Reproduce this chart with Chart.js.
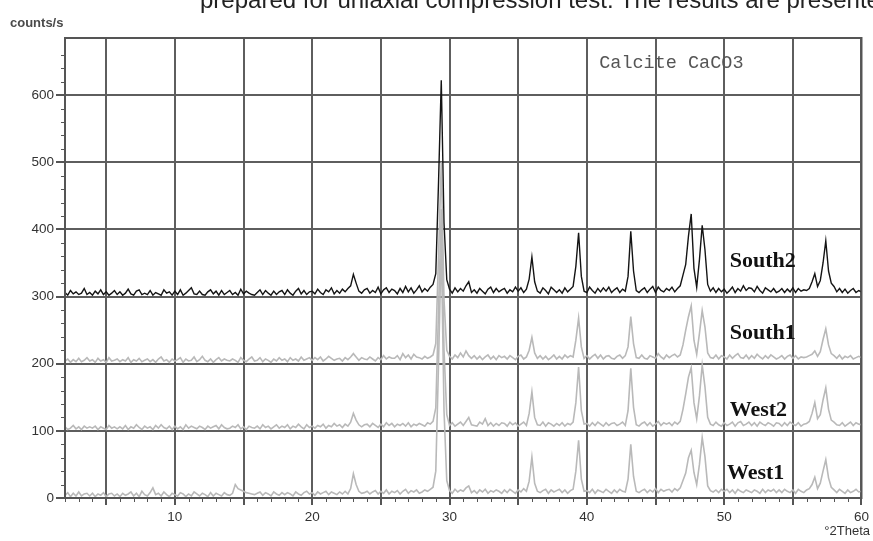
<!DOCTYPE html>
<html>
<head>
<meta charset="utf-8">
<script src="https://cdn.jsdelivr.net/npm/chart.js@4.4.1/dist/chart.umd.min.js"></script>
<style>
  body { margin: 0; background: #fff; }
  #wrap { position: relative; width: 873px; height: 541px; overflow: hidden; }
  #myChart { position: absolute; left: 0; top: 0; }
  .note { position: absolute; white-space: nowrap; font-family: "Liberation Sans", Arial, sans-serif; line-height: 1; }
  #caption { left: 200px; top: -12px; font-size: 24px; color: #222; }
  #yTitle { left: 10px; top: 16px; font-size: 13px; font-weight: bold; color: #4a4a4a; }
  #xTitle { right: 3px; top: 524px; font-size: 13px; color: #333; }
</style>
</head>
<body>
<div id="wrap">
  <canvas id="myChart" width="873" height="541"></canvas>
  <div class="note" id="caption">prepared for uniaxial compression test. The results are presented</div>
  <div class="note" id="yTitle">counts/s</div>
  <div class="note" id="xTitle">°2Theta</div>
</div>
<script>
// 2Theta positions of the scan (degrees)
const twoTheta = [
  2, 2.2, 2.4, 2.6, 2.8, 3, 3.2, 3.4, 3.6, 3.8,
  4, 4.2, 4.4, 4.6, 4.8, 5, 5.2, 5.4, 5.6, 5.8,
  6, 6.2, 6.4, 6.6, 6.8, 7, 7.2, 7.4, 7.6, 7.8,
  8, 8.2, 8.4, 8.6, 8.8, 9, 9.2, 9.4, 9.6, 9.8,
  10, 10.2, 10.4, 10.6, 10.8, 11, 11.2, 11.4, 11.6, 11.8,
  12, 12.2, 12.4, 12.6, 12.8, 13, 13.2, 13.4, 13.6, 13.8,
  14, 14.2, 14.4, 14.6, 14.8, 15, 15.2, 15.4, 15.6, 15.8,
  16, 16.2, 16.4, 16.6, 16.8, 17, 17.2, 17.4, 17.6, 17.8,
  18, 18.2, 18.4, 18.6, 18.8, 19, 19.2, 19.4, 19.6, 19.8,
  20, 20.2, 20.4, 20.6, 20.8, 21, 21.2, 21.4, 21.6, 21.8,
  22, 22.2, 22.4, 22.6, 22.8, 23, 23.2, 23.4, 23.6, 23.8,
  24, 24.2, 24.4, 24.6, 24.8, 25, 25.2, 25.4, 25.6, 25.8,
  26, 26.2, 26.4, 26.6, 26.8, 27, 27.2, 27.4, 27.6, 27.8,
  28, 28.2, 28.4, 28.6, 28.8, 29, 29.2, 29.4, 29.6, 29.8,
  30, 30.2, 30.4, 30.6, 30.8, 31, 31.2, 31.4, 31.6, 31.8,
  32, 32.2, 32.4, 32.6, 32.8, 33, 33.2, 33.4, 33.6, 33.8,
  34, 34.2, 34.4, 34.6, 34.8, 35, 35.2, 35.4, 35.6, 35.8,
  36, 36.2, 36.4, 36.6, 36.8, 37, 37.2, 37.4, 37.6, 37.8,
  38, 38.2, 38.4, 38.6, 38.8, 39, 39.2, 39.4, 39.6, 39.8,
  40, 40.2, 40.4, 40.6, 40.8, 41, 41.2, 41.4, 41.6, 41.8,
  42, 42.2, 42.4, 42.6, 42.8, 43, 43.2, 43.4, 43.6, 43.8,
  44, 44.2, 44.4, 44.6, 44.8, 45, 45.2, 45.4, 45.6, 45.8,
  46, 46.2, 46.4, 46.6, 46.8, 47, 47.2, 47.4, 47.6, 47.8,
  48, 48.2, 48.4, 48.6, 48.8, 49, 49.2, 49.4, 49.6, 49.8,
  50, 50.2, 50.4, 50.6, 50.8, 51, 51.2, 51.4, 51.6, 51.8,
  52, 52.2, 52.4, 52.6, 52.8, 53, 53.2, 53.4, 53.6, 53.8,
  54, 54.2, 54.4, 54.6, 54.8, 55, 55.2, 55.4, 55.6, 55.8,
  56, 56.2, 56.4, 56.6, 56.8, 57, 57.2, 57.4, 57.6, 57.8,
  58, 58.2, 58.4, 58.6, 58.8, 59, 59.2, 59.4, 59.6, 59.8,
  60
];

// counts/s of each sample, before the vertical shift
const south2Counts = [
  6, 2, 9, 4, 7, 3, 5, 12, 3, 6,
  2, 8, 4, 10, 3, 7, 2, 5, 9, 3,
  7, 2, 5, 11, 4, 2, 8, 10, 3, 5,
  3, 9, 2, 6, 4, 2, 10, 5, 7, 2,
  8, 3, 10, 2, 5, 9, 13, 4, 3, 8,
  3, 2, 7, 10, 4, 8, 2, 9, 3, 6,
  9, 3, 6, 2, 11, 4, 8, 5, 3, 2,
  6, 10, 3, 9, 5, 2, 8, 3, 7, 9,
  3, 10, 5, 2, 8, 12, 4, 9, 3, 7,
  8, 4, 11, 6, 3, 10, 7, 13, 4, 9,
  5, 11, 7, 12, 16, 33, 20, 8, 5, 10,
  12, 5, 9, 6, 14, 4, 10, 13, 6, 11,
  9, 4, 12, 6, 15, 7, 13, 5, 10, 16,
  7, 12, 8, 14, 18, 34, 170, 322, 110, 25,
  11, 5, 13, 7, 12, 8, 16, 22, 6, 10,
  5, 12, 8, 4, 11, 14, 6, 12, 7, 10,
  12, 5, 10, 7, 14, 8, 13, 6, 11, 26,
  59, 22, 8, 5, 13, 9, 4, 14, 10, 6,
  10, 5, 13, 7, 11, 15, 45, 95, 30, 8,
  6, 14, 9, 5, 12, 7, 13, 8, 14, 6,
  10, 13, 6, 11, 8, 30, 97, 38, 9, 6,
  10, 13, 6, 11, 15, 6, 14, 9, 7, 12,
  9, 14, 7, 12, 16, 32, 48, 90, 123, 42,
  14, 55, 106, 70, 18, 8, 13, 6, 12, 7,
  11, 5, 9, 14, 6, 12, 8, 16, 9, 13,
  12, 7, 15, 9, 5, 13, 10, 7, 12, 6,
  8, 12, 6, 11, 7, 13, 6, 12, 8, 10,
  9, 12, 22, 34, 15, 24, 50, 83, 38, 20,
  15, 7, 12, 6, 11, 5, 9, 12, 6, 9,
  7
];

const south1Counts = [
  4, 7, 2, 6, 3, 8, 3, 5, 9, 4,
  6, 2, 8, 4, 6, 2, 9, 4, 5, 7,
  3, 6, 4, 9, 2, 6, 4, 8, 3, 5,
  7, 3, 6, 2, 7, 10, 4, 6, 2, 7,
  4, 6, 9, 2, 7, 4, 5, 10, 3, 6,
  11, 5, 3, 7, 2, 6, 9, 4, 7, 5,
  4, 7, 5, 2, 9, 5, 3, 7, 10, 4,
  5, 9, 3, 7, 5, 2, 7, 4, 9, 5,
  7, 3, 9, 5, 7, 4, 10, 5, 7, 9,
  5, 9, 6, 10, 4, 7, 11, 8, 5, 7,
  8, 4, 9, 6, 10, 15, 10, 5, 9, 7,
  6, 10, 7, 4, 9, 6, 12, 7, 10, 8,
  8, 12, 6, 15, 9, 13, 7, 14, 10, 9,
  7, 11, 8, 10, 13, 30, 160, 300, 95, 20,
  11, 7, 13, 9, 16, 10, 19, 12, 8, 12,
  7, 11, 6, 10, 13, 7, 11, 6, 12, 9,
  11, 7, 12, 9, 6, 11, 13, 7, 10, 20,
  39, 16, 8, 12, 7, 11, 6, 9, 13, 7,
  11, 7, 13, 9, 12, 10, 35, 68, 25, 8,
  12, 7, 11, 14, 8, 13, 7, 11, 12, 8,
  7, 11, 13, 8, 12, 25, 70, 30, 9, 8,
  13, 8, 7, 12, 10, 8, 15, 10, 7, 13,
  9, 12, 14, 10, 13, 28, 50, 70, 86, 35,
  14, 45, 79, 55, 16, 9, 8, 13, 7, 12,
  10, 7, 13, 8, 12, 15, 9, 8, 13, 7,
  12, 8, 14, 10, 7, 12, 8, 13, 10, 7,
  9, 12, 7, 11, 13, 8, 12, 7, 10, 9,
  10, 12, 14, 19, 11, 18, 36, 52, 28, 15,
  12, 8, 13, 7, 11, 9, 12, 7, 9, 11,
  9
];

const west2Counts = [
  6, 2, 4, 8, 3, 6, 2, 7, 4, 6,
  4, 7, 2, 6, 4, 2, 8, 4, 6, 3,
  6, 3, 8, 2, 6, 4, 9, 5, 2, 7,
  4, 6, 2, 8, 4, 9, 5, 3, 7, 2,
  7, 3, 6, 2, 9, 4, 7, 5, 3, 7,
  5, 2, 7, 4, 6, 8, 3, 9, 5, 3,
  4, 7, 5, 9, 3, 6, 2, 7, 5, 4,
  7, 3, 9, 5, 7, 3, 6, 9, 4, 7,
  5, 9, 3, 7, 5, 10, 6, 3, 9, 5,
  7, 4, 8, 6, 10, 4, 8, 6, 11, 7,
  9, 5, 10, 7, 13, 26, 16, 9, 6, 9,
  10, 6, 11, 8, 5, 10, 6, 12, 8, 11,
  6, 10, 8, 11, 7, 12, 6, 10, 8, 11,
  9, 7, 12, 10, 14, 34, 180, 330, 120, 24,
  8, 12, 7, 10, 13, 8, 14, 20, 9, 8,
  7, 13, 10, 18, 8, 12, 7, 11, 8, 12,
  11, 7, 13, 9, 12, 7, 10, 13, 8, 26,
  58, 20, 9, 8, 13, 7, 12, 10, 7, 11,
  8, 12, 7, 11, 9, 13, 42, 95, 30, 10,
  11, 7, 12, 8, 13, 10, 7, 12, 8, 11,
  12, 8, 10, 13, 8, 30, 93, 35, 9, 7,
  11, 13, 8, 12, 7, 10, 14, 8, 12, 10,
  12, 8, 13, 10, 14, 32, 55, 80, 94, 42,
  18, 52, 98, 66, 20, 10, 8, 13, 9, 7,
  12, 8, 10, 13, 7, 12, 14, 8, 10, 13,
  8, 12, 7, 13, 10, 8, 12, 10, 7, 12,
  11, 7, 12, 8, 13, 10, 8, 12, 7, 10,
  11, 14, 26, 42, 18, 24, 46, 64, 32, 16,
  13, 9, 8, 12, 7, 10, 13, 8, 12, 10,
  9
];

const west1Counts = [
  4, 8, 2, 7, 3, 9, 3, 6, 7, 3,
  7, 2, 6, 4, 8, 2, 6, 7, 3, 6,
  2, 7, 4, 6, 9, 3, 7, 2, 10, 5,
  3, 8, 15, 5, 7, 3, 9, 5, 2, 7,
  5, 3, 8, 6, 2, 6, 3, 9, 6, 3,
  7, 5, 2, 8, 3, 7, 5, 3, 8, 5,
  4, 7, 20, 14, 12, 10, 8, 7, 6, 5,
  7, 9, 4, 8, 6, 3, 9, 6, 4, 8,
  5, 8, 6, 3, 9, 6, 4, 8, 10, 6,
  8, 4, 9, 6, 8, 10, 5, 9, 7, 5,
  9, 6, 10, 6, 14, 36, 20, 10, 7, 8,
  10, 6, 9, 11, 6, 10, 7, 12, 6, 10,
  8, 11, 6, 10, 13, 7, 11, 9, 12, 7,
  9, 12, 10, 13, 16, 40, 200, 380, 130, 26,
  11, 7, 13, 9, 12, 10, 15, 18, 8, 11,
  7, 12, 9, 13, 7, 11, 9, 12, 10, 7,
  12, 8, 13, 10, 7, 12, 9, 14, 10, 25,
  61, 22, 10, 8, 11, 13, 7, 12, 9, 11,
  13, 8, 12, 7, 11, 13, 40, 86, 28, 10,
  11, 8, 13, 7, 12, 10, 8, 13, 10, 7,
  12, 8, 13, 10, 9, 28, 80, 32, 10, 8,
  11, 13, 8, 12, 9, 14, 8, 13, 10, 12,
  13, 9, 14, 11, 15, 26, 37, 60, 71, 38,
  20, 50, 90, 62, 18, 11, 9, 12, 8, 13,
  10, 13, 8, 12, 7, 13, 10, 8, 12, 10,
  8, 12, 10, 7, 13, 8, 12, 10, 13, 8,
  12, 8, 13, 10, 8, 12, 7, 13, 10, 8,
  12, 14, 20, 31, 14, 22, 40, 57, 30, 16,
  12, 8, 13, 10, 7, 12, 8, 10, 13, 9,
  10
];

const seriesNames = ["South2", "South1", "West2", "West1"];
const seriesOffsets = [300, 200, 100, 0];
const xLabelTicks = [10, 20, 30, 40, 50, 60];
const yLabelTicks = [0, 100, 200, 300, 400, 500, 600];
const phaseLabel = "Calcite CaCO3";

const seriesCounts = [south2Counts, south1Counts, west2Counts, west1Counts];
const lineColors = ["#141414", "#b9b9b9", "#b9b9b9", "#b9b9b9"];
const lineWidths = [1.4, 1.6, 1.6, 1.6];

const gridColor = "#5e5e5e";
const axisColor = "#555";
const clear = "rgba(0,0,0,0)";
const tickFont = { family: "'Liberation Sans', Arial, sans-serif", size: 13.5 };

// where the sample names and the phase note sit, in chart units
const namePos = [[50.4, 352], [50.4, 245], [50.4, 131], [50.2, 37]];
const phasePos = [40.9, 647];

const decorations = {
  id: "decorations",
  afterDatasetsDraw(chart) {
    const { ctx, chartArea, scales } = chart;
    const x = scales.x;
    const y = scales.y;
    ctx.save();

    // frame round the plot
    ctx.strokeStyle = axisColor;
    ctx.lineWidth = 2;
    ctx.strokeRect(chartArea.left, chartArea.top, chartArea.right - chartArea.left, chartArea.bottom - chartArea.top);

    // short minor ticks
    ctx.lineWidth = 1;
    x.ticks.forEach((t) => {
      if (t.value % 5 !== 0) {
        const px = Math.round(x.getPixelForValue(t.value)) + 0.5;
        ctx.beginPath();
        ctx.moveTo(px, chartArea.bottom);
        ctx.lineTo(px, chartArea.bottom + 4);
        ctx.stroke();
      }
    });
    y.ticks.forEach((t) => {
      if (t.value % 100 !== 0 && t.value % 20 === 0) {
        const py = Math.round(y.getPixelForValue(t.value)) + 0.5;
        ctx.beginPath();
        ctx.moveTo(chartArea.left - 4, py);
        ctx.lineTo(chartArea.left, py);
        ctx.stroke();
      }
    });

    // sample names
    ctx.fillStyle = "#111";
    ctx.font = "bold 22px 'Liberation Serif', 'Times New Roman', serif";
    ctx.textBaseline = "middle";
    ctx.textAlign = "left";
    seriesNames.forEach((name, i) => {
      ctx.fillText(name, x.getPixelForValue(namePos[i][0]), y.getPixelForValue(namePos[i][1]));
    });

    // phase note
    ctx.fillStyle = "#555";
    ctx.font = "18.5px 'Liberation Mono', 'Courier New', monospace";
    ctx.fillText(phaseLabel, x.getPixelForValue(phasePos[0]), y.getPixelForValue(phasePos[1]));
    ctx.restore();
  },
};

const datasets = seriesNames.map((name, i) => ({
  label: name,
  data: twoTheta.map((t, k) => ({ x: t, y: seriesCounts[i][k] + seriesOffsets[i] })),
  borderColor: lineColors[i],
  borderWidth: lineWidths[i],
  pointRadius: 0,
  tension: 0,
  fill: false,
}));

var ctx = document.getElementById("myChart").getContext("2d");
var myChart = new Chart(ctx, {
  type: "line",
  data: { datasets: datasets },
  options: {
    responsive: false,
    animation: false,
    devicePixelRatio: 1,
    layout: { padding: { top: 38, right: 10, left: 0, bottom: 0 } },
    plugins: {
      legend: { display: false },
      tooltip: { enabled: false },
    },
    scales: {
      x: {
        type: "linear",
        min: 2,
        max: 60,
        ticks: {
          stepSize: 1,
          autoSkip: false,
          maxRotation: 0,
          minRotation: 0,
          padding: 4,
          color: "#333",
          font: tickFont,
          callback: (v) => (xLabelTicks.includes(v) ? String(v) : ""),
        },
        grid: {
          color: (c) => (c.tick && c.tick.value % 5 === 0 ? gridColor : clear),
          tickColor: (c) => (c.tick && c.tick.value % 5 === 0 ? axisColor : clear),
          lineWidth: 2,
          tickLength: 7,
        },
        border: { color: axisColor, width: 2 },
        afterFit: (scale) => {
          scale.height = 43;
        },
      },
      y: {
        type: "linear",
        min: 0,
        max: 685,
        ticks: {
          stepSize: 20,
          autoSkip: false,
          padding: 2,
          color: "#333",
          font: tickFont,
          callback: (v) => (yLabelTicks.includes(v) ? String(v) : ""),
        },
        grid: {
          color: (c) => (c.tick && c.tick.value % 100 === 0 ? gridColor : clear),
          tickColor: (c) => (c.tick && c.tick.value % 100 === 0 ? axisColor : clear),
          lineWidth: 2,
          tickLength: 9,
        },
        border: { color: axisColor, width: 2 },
        afterFit: (scale) => {
          scale.width = 65;
        },
      },
    },
  },
  plugins: [decorations],
});
</script>
</body>
</html>
